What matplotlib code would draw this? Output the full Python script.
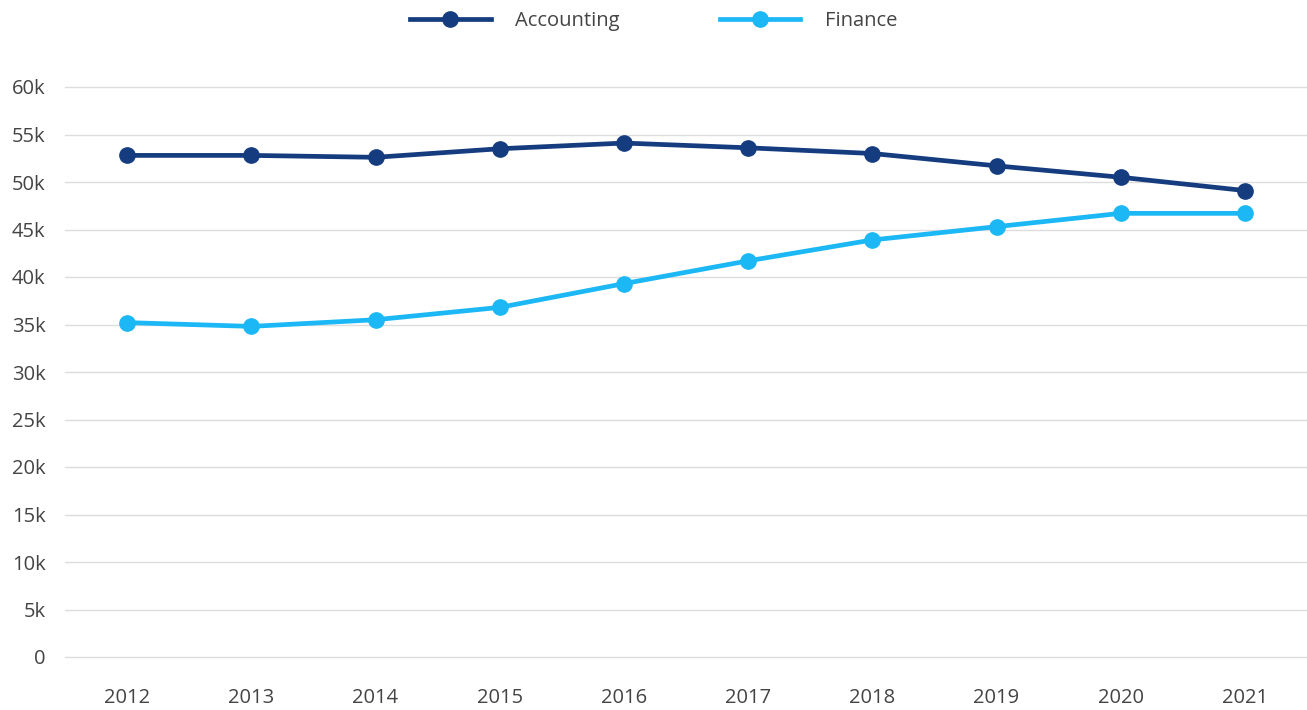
import matplotlib.pyplot as plt
from matplotlib.ticker import FuncFormatter

years = ["2012", "2013", "2014", "2015", "2016", "2017", "2018", "2019", "2020", "2021"]
accounting = [52.8, 52.8, 52.6, 53.5, 54.1, 53.6, 53.0, 51.7, 50.5, 49.1]
finance = [35.2, 34.8, 35.5, 36.8, 39.3, 41.7, 43.9, 45.3, 46.7, 46.7]

plt.rcParams['font.family'] = ['Open Sans', 'DejaVu Sans']

fig = plt.figure(figsize=(13.07, 7.10), dpi=100)
ax = fig.add_axes([65 / 1307, 53 / 710, 1 - 65 / 1307, (657 - 87) / 710])

x = list(range(len(years)))
ax.plot(x, [v * 1000 for v in accounting], color="#143c7f", lw=3.4, marker="o",
        markersize=11, label="Accounting", clip_on=False, zorder=3)
ax.plot(x, [v * 1000 for v in finance], color="#1cb8f6", lw=3.4, marker="o",
        markersize=11, label="Finance", clip_on=False, zorder=3)

ax.set_xlim(-0.5, len(years) - 0.5)
ax.set_ylim(0, 60000)
ax.set_yticks(range(0, 60001, 5000))
ax.yaxis.set_major_formatter(FuncFormatter(lambda v, p: "0" if v == 0 else f"{int(v / 1000)}k"))
ax.set_xticks(x)
ax.set_xticklabels(years)
ax.tick_params(axis="both", length=0, labelsize=14.5, colors="#444444")
ax.tick_params(axis="x", pad=22)
ax.tick_params(axis="y", pad=14)
ax.grid(axis="y", color="#dddddd", lw=1)
for gl in ax.get_ygridlines():
    gl.set_clip_on(False)
ax.set_axisbelow(True)
for s in ax.spines.values():
    s.set_visible(False)

leg = fig.legend(loc="upper center", bbox_to_anchor=(0.5, 1.01), ncol=2, frameon=False,
                 fontsize=14.5, handlelength=4, columnspacing=5, handletextpad=1.2)
for t in leg.get_texts():
    t.set_color("#444444")

fig.savefig("out.png", dpi=100)
